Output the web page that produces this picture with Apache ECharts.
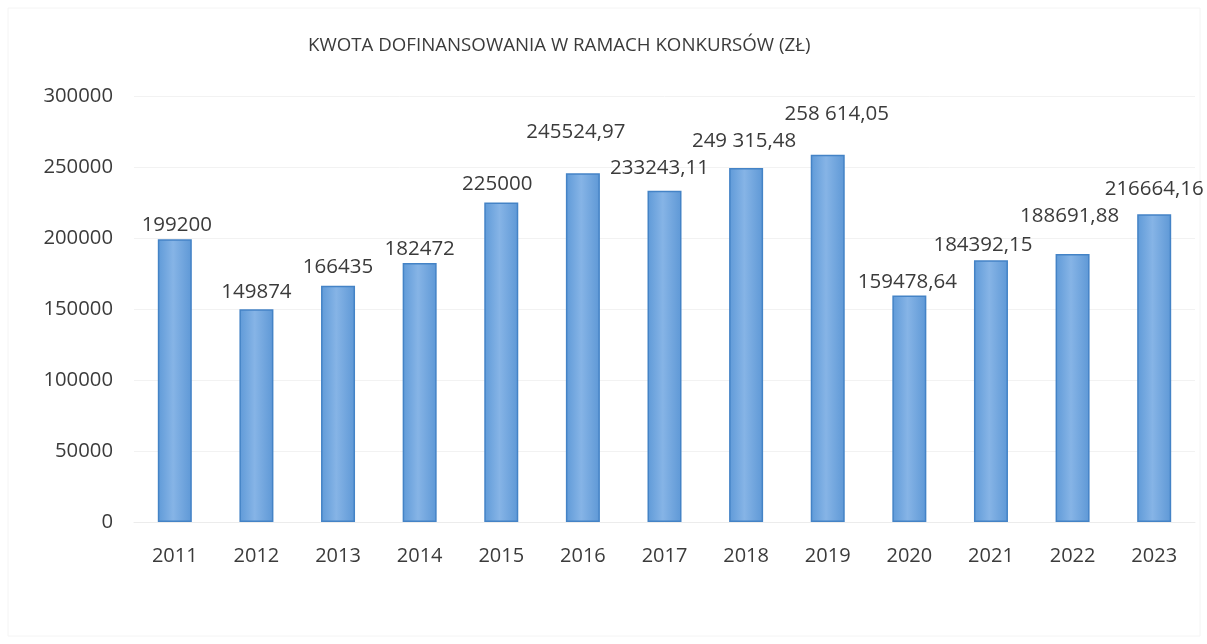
<!DOCTYPE html>
<html>
<head>
<meta charset="utf-8">
<script src="https://cdn.jsdelivr.net/npm/echarts@6/dist/echarts.min.js"></script>
<style>html,body{margin:0;padding:0;background:#fff}#c{width:1207px;height:644px}</style>
</head>
<body>
<div id="c"></div>
<script>
const categories = ['2011','2012','2013','2014','2015','2016','2017','2018','2019','2020','2021','2022','2023'];
const values = [199200, 149874, 166435, 182472, 225000, 245524.97, 233243.11, 249315.48, 258614.05, 159478.64, 184392.15, 188691.88, 216664.16];
const valueLabels = ['199200','149874','166435','182472','225000','245524,97','233243,11','249 315,48','258 614,05','159478,64','184392,15','188691,88','216664,16'];
const yTicks = [0, 50000, 100000, 150000, 200000, 250000, 300000];
const titleText = 'KWOTA DOFINANSOWANIA W RAMACH KONKURSÓW (ZŁ)';

// label nudges (style only) to match hand-placed labels
const labelOffsets = [[2,2],[0,-2],[0,-3],[0,2],[-4,-3],[-7,-26],[-5,-7],[-2,-11],[9,-25],[-2,2],[-8,0],[-3,-22],[0,-10]];

const chart = echarts.init(document.getElementById('c'), null, {renderer:'canvas'});
const textColor = '#3b3b3b';
const font = '"Open Sans", "Liberation Sans", sans-serif';
chart.setOption({
  backgroundColor: '#fff',
  animation: false,
  title: {
    text: titleText,
    left: 303, top: 31,
    textStyle: {fontFamily: font, fontSize: 18.7, fontWeight: 'normal', color: textColor}
  },
  graphic: [{type:'rect', shape:{x:8,y:8,width:1192,height:628}, style:{fill:'none', stroke:'#f4f4f4', lineWidth:1}, silent:true}],
  grid: {left: 134, right: 12, top: 96, bottom: 122},
  xAxis: {
    type: 'category',
    data: categories,
    axisLine: {show: true, lineStyle: {color: '#ececec'}},
    axisTick: {show: false},
    axisLabel: {color: textColor, fontFamily: font, fontSize: 20, margin: 24}
  },
  yAxis: {
    type: 'value',
    min: yTicks[0], max: yTicks[yTicks.length-1], interval: yTicks[1]-yTicks[0],
    axisLine: {show: false},
    axisTick: {show: false},
    splitLine: {lineStyle: {color: '#f2f2f2'}},
    axisLabel: {color: textColor, fontFamily: font, fontSize: 20.3, margin: 21, formatter: v => String(v)}
  },
  series: [{
    type: 'bar',
    barWidth: 34,
    data: values.map((v, i) => ({
      value: v,
      label: {offset: labelOffsets[i]}
    })),
    itemStyle: {
      color: new echarts.graphic.LinearGradient(0, 0, 1, 0, [
        {offset: 0, color: '#5f9ad8'},
        {offset: 0.45, color: '#86b4e6'},
        {offset: 1, color: '#5e98d6'}
      ]),
      borderColor: '#4483c6',
      borderWidth: 1.5
    },
    label: {
      show: true,
      position: 'top',
      distance: 5,
      color: textColor,
      fontFamily: font,
      fontSize: 20.5,
      formatter: p => valueLabels[p.dataIndex]
    }
  }]
});
</script>
</body>
</html>
